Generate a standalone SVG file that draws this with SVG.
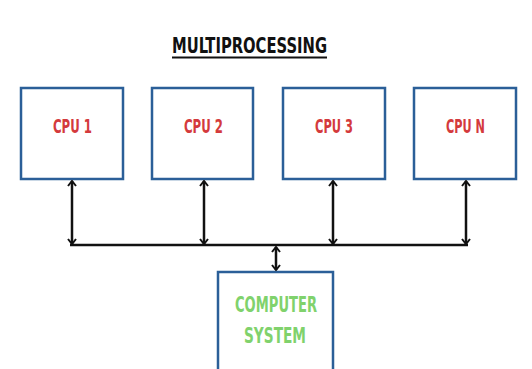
<svg xmlns="http://www.w3.org/2000/svg" width="532" height="369" viewBox="0 0 532 369">
<style>
.box{fill:#fff;stroke:#2b5f98;stroke-width:2.5}
.cpu{font-family:"Liberation Sans Narrow","DejaVu Sans Condensed","Liberation Sans",sans-serif;font-weight:bold;font-size:19.5px;fill:#d43a3c;text-anchor:middle}
.sys{font-family:"Liberation Sans Narrow","DejaVu Sans Condensed","Liberation Sans",sans-serif;font-weight:bold;font-size:21px;fill:#80d26c;text-anchor:middle}
.title{font-family:"Liberation Sans Narrow","DejaVu Sans Condensed","Liberation Sans",sans-serif;font-weight:bold;font-size:21px;fill:#111}
.line{stroke:#111;stroke-width:2.5;fill:none}
</style>
<defs>
<marker id="ah" viewBox="0 0 10 10" refX="9" refY="5" markerWidth="10" markerHeight="10" markerUnits="userSpaceOnUse" orient="auto-start-reverse">
<path d="M4,1 L9,5 L4,9" fill="none" stroke="#111" stroke-width="2"/>
</marker>
</defs>
<rect width="532" height="369" fill="#fff"/>
<g id="title">
<text class="title" x="172" y="53" textLength="155" lengthAdjust="spacingAndGlyphs">MULTIPROCESSING</text>
<line x1="172" y1="57.5" x2="327" y2="57.5" stroke="#111" stroke-width="2"/>
</g>
<g id="cpu1"><rect class="box" x="21" y="88" width="102" height="91"/><text class="cpu" x="72.5" y="133" textLength="39" lengthAdjust="spacingAndGlyphs">CPU 1</text></g>
<g id="cpu2"><rect class="box" x="152" y="88" width="101" height="91"/><text class="cpu" x="203.5" y="133" textLength="39" lengthAdjust="spacingAndGlyphs">CPU 2</text></g>
<g id="cpu3"><rect class="box" x="283" y="88" width="102" height="91"/><text class="cpu" x="334" y="133" textLength="38" lengthAdjust="spacingAndGlyphs">CPU 3</text></g>
<g id="cpun"><rect class="box" x="414" y="88" width="102" height="91"/><text class="cpu" x="465.5" y="133" textLength="39" lengthAdjust="spacingAndGlyphs">CPU N</text></g>
<g id="computer-system"><rect class="box" x="218" y="272" width="115" height="110"/>
<text class="sys" x="276" y="312" textLength="82" lengthAdjust="spacingAndGlyphs">COMPUTER</text>
<text class="sys" x="275" y="343" textLength="62" lengthAdjust="spacingAndGlyphs">SYSTEM</text></g>
<g id="connectors">
<line class="line" x1="70" y1="245" x2="468" y2="245"/>
<line class="line" x1="72" y1="181" x2="72" y2="244" marker-start="url(#ah)" marker-end="url(#ah)"/>
<line class="line" x1="204" y1="181" x2="204" y2="244" marker-start="url(#ah)" marker-end="url(#ah)"/>
<line class="line" x1="333" y1="181" x2="333" y2="244" marker-start="url(#ah)" marker-end="url(#ah)"/>
<line class="line" x1="466" y1="181" x2="466" y2="244" marker-start="url(#ah)" marker-end="url(#ah)"/>
<line class="line" x1="276" y1="247" x2="276" y2="270" marker-start="url(#ah)" marker-end="url(#ah)"/>
</g>
</svg>
